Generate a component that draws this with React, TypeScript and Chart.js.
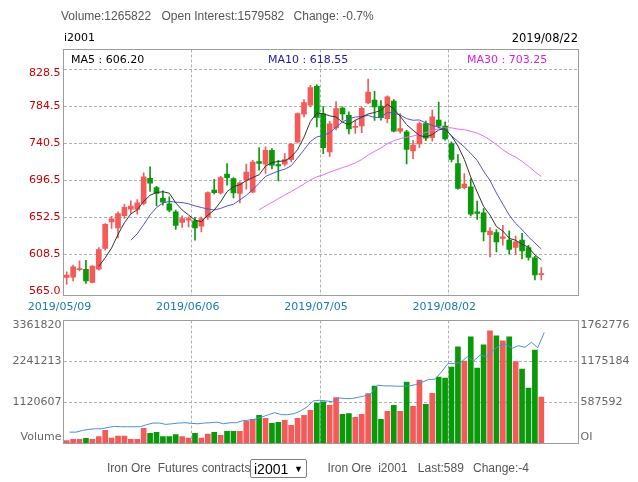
import React, { useEffect, useRef } from "react";
import { Chart, registerables } from "chart.js";

Chart.register(...registerables);

const dates = [
  "2019/05/09", "2019/05/10", "2019/05/13", "2019/05/14", "2019/05/15", "2019/05/16", "2019/05/17", "2019/05/20", "2019/05/21", "2019/05/22",
  "2019/05/23", "2019/05/24", "2019/05/27", "2019/05/28", "2019/05/29", "2019/05/30", "2019/05/31", "2019/06/03", "2019/06/04", "2019/06/05",
  "2019/06/06", "2019/06/10", "2019/06/11", "2019/06/12", "2019/06/13", "2019/06/14", "2019/06/17", "2019/06/18", "2019/06/19", "2019/06/20",
  "2019/06/21", "2019/06/24", "2019/06/25", "2019/06/26", "2019/06/27", "2019/06/28", "2019/07/01", "2019/07/02", "2019/07/03", "2019/07/04",
  "2019/07/05", "2019/07/08", "2019/07/09", "2019/07/10", "2019/07/11", "2019/07/12", "2019/07/15", "2019/07/16", "2019/07/17", "2019/07/18",
  "2019/07/19", "2019/07/22", "2019/07/23", "2019/07/24", "2019/07/25", "2019/07/26", "2019/07/29", "2019/07/30", "2019/07/31", "2019/08/01",
  "2019/08/02", "2019/08/05", "2019/08/06", "2019/08/07", "2019/08/08", "2019/08/09", "2019/08/12", "2019/08/13", "2019/08/14", "2019/08/15",
  "2019/08/16", "2019/08/19", "2019/08/20", "2019/08/21", "2019/08/22",
];

const openPrices = [
  581.1, 581.5, 590.6, 591.0, 575.2, 591.0, 615.6, 647.3, 640.2, 654.8,
  662.4, 662.0, 669.1, 699.2, 688.1, 675.4, 668.7, 659.2, 646.5, 649.3,
  648.5, 642.2, 653.2, 685.0, 681.8, 704.0, 698.8, 681.0, 696.9, 682.6,
  719.0, 715.9, 732.5, 715.5, 715.9, 721.4, 742.4, 775.3, 786.1, 808.6,
  775.7, 730.5, 759.1, 782.5, 774.0, 759.5, 761.3, 788.8, 792.0, 784.9,
  770.0, 790.8, 755.1, 754.3, 731.7, 740.1, 764.2, 747.4, 768.2, 761.1,
  740.5, 716.7, 688.1, 689.0, 659.2, 658.0, 632.2, 634.6, 627.5, 625.5,
  616.8, 625.5, 616.8, 604.5, 584.5,
];
const highPrices = [
  587.8, 595.8, 600.9, 601.7, 595.4, 616.8, 645.3, 654.0, 659.2, 668.3,
  672.3, 673.9, 705.6, 712.7, 689.7, 684.2, 677.0, 661.2, 654.4, 653.2,
  652.8, 653.2, 683.0, 698.0, 701.6, 716.7, 700.0, 694.9, 715.9, 720.6,
  735.7, 736.5, 734.5, 720.6, 728.6, 740.5, 776.9, 792.8, 809.8, 810.2,
  784.5, 767.0, 790.2, 784.0, 778.1, 768.2, 784.0, 817.0, 802.5, 791.6,
  797.3, 792.8, 776.1, 756.3, 744.4, 766.2, 767.2, 780.1, 789.8, 766.2,
  742.4, 727.4, 704.8, 698.8, 672.1, 663.2, 640.4, 638.2, 643.3, 636.6,
  630.3, 633.8, 619.5, 606.3, 593.0,
];
const lowPrices = [
  573.2, 577.1, 589.0, 574.0, 574.8, 589.8, 613.6, 639.4, 628.3, 651.3,
  657.2, 656.4, 667.5, 683.4, 666.3, 667.1, 659.2, 638.2, 640.6, 641.4,
  625.5, 635.4, 650.1, 680.4, 680.2, 690.9, 675.8, 669.9, 686.2, 681.8,
  708.7, 704.8, 710.3, 696.1, 713.9, 718.7, 741.2, 772.2, 784.1, 760.3,
  728.5, 725.0, 756.7, 768.2, 752.0, 752.4, 753.3, 788.0, 767.8, 768.2,
  765.0, 754.3, 752.7, 716.3, 722.6, 735.5, 743.8, 743.2, 759.3, 744.4,
  718.7, 686.2, 686.4, 654.4, 650.1, 624.7, 605.7, 611.6, 619.5, 608.8,
  608.2, 603.3, 601.7, 578.3, 578.3,
];
const closePrices = [
  583.9, 593.8, 591.8, 577.1, 594.6, 614.4, 644.5, 650.9, 657.2, 664.7,
  666.0, 669.9, 700.8, 693.3, 681.0, 670.7, 661.2, 643.0, 651.3, 651.3,
  640.2, 651.3, 682.2, 682.0, 700.0, 700.0, 681.8, 693.7, 706.4, 718.3,
  716.7, 732.5, 714.7, 713.9, 721.4, 739.7, 776.1, 789.2, 807.1, 771.4,
  735.5, 764.0, 782.1, 775.7, 757.9, 761.0, 782.3, 801.5, 784.0, 771.2,
  796.0, 755.3, 758.1, 733.5, 738.7, 764.2, 746.8, 772.2, 761.1, 746.0,
  721.6, 687.0, 692.1, 656.4, 657.2, 635.4, 636.2, 623.5, 629.5, 614.4,
  623.5, 612.8, 604.9, 584.3, 585.7,
];
const volumes = [
  82000, 115000, 115000, 142000, 115000, 192000, 362000, 147000, 202000, 202000,
  115000, 115000, 416000, 280000, 302000, 192000, 192000, 247000, 192000, 147000,
  275000, 147000, 257000, 302000, 220000, 330000, 330000, 330000, 605000, 660000,
  770000, 687000, 550000, 577000, 632000, 495000, 687000, 770000, 907000, 1105000,
  1136000, 1045000, 1255000, 797000, 816000, 715000, 797000, 1365000, 1567000, 660000,
  880000, 1045000, 880000, 1677000, 1017000, 1732000, 1072000, 1374000, 1814000, 1787000,
  2089000, 2639000, 2254000, 2914000, 2062000, 2694000, 3079000, 2941000, 2804000, 2914000,
  2236000, 2034000, 1512000, 2556000, 1266000,
];
const openInterest = [
  163000, 163000, 187000, 202000, 211000, 211000, 231000, 245000, 240000, 240000,
  240000, 240000, 269000, 293000, 293000, 274000, 283000, 293000, 298000, 288000,
  283000, 293000, 298000, 307000, 283000, 298000, 298000, 327000, 336000, 351000,
  380000, 413000, 442000, 413000, 413000, 428000, 466000, 524000, 610000, 620000,
  610000, 600000, 653000, 644000, 644000, 663000, 682000, 716000, 836000, 826000,
  826000, 821000, 821000, 826000, 845000, 879000, 917000, 922000, 1028000, 1148000,
  1148000, 1162000, 1244000, 1182000, 1268000, 1244000, 1330000, 1402000, 1426000, 1364000,
  1402000, 1378000, 1450000, 1374000, 1590000,
];

const priceTicks = [565.0, 608.5, 652.5, 696.5, 740.5, 784.5, 828.5];
const volumeTicks = [0, 1120607, 2241213, 3361820];
const oiTicks = [0, 587592, 1175184, 1762776];
const dateTickIndex = [0, 20, 40, 60];
const maPeriods = [5, 10, 30];
const maLabelTexts = ["MA5 : 606.20", "MA10 : 618.55", "MA30 : 703.25"];
const maColors = ["#333333", "#5252d6", "#ea6dea"];
const maLabelColors = ["#000000", "#1a1aa0", "#d61fd6"];

const RED = "#f45a5a";
const GREEN = "#0a990a";
const GRID = "#b0b0b0";
const FRAME = "#9c9c9c";
const X_MIN = -0.5;
const X_MAX = 79.8;
const OI_SHIFT = 0.45;

function movingAverage(src: number[], n: number) {
  return src.map((_, i) => {
    if (i < n) return null;
    let s = 0;
    for (let k = i - n + 1; k <= i; k++) s += src[k];
    return s / n;
  });
}

const framePlugin = {
  id: "frame",
  afterDraw(chart: any) {
    const { ctx, chartArea: a } = chart;
    ctx.save();
    ctx.strokeStyle = FRAME;
    ctx.lineWidth = 1;
    ctx.strokeRect(a.left, a.top, a.right - a.left, a.bottom - a.top);
    ctx.restore();
  },
};

const priceLabelPlugin = {
  id: "priceLabels",
  afterDraw(chart: any) {
    const s = chart.scales.y;
    const { ctx, chartArea: a } = chart;
    const topLine = s.getPixelForValue(priceTicks[priceTicks.length - 1]);
    ctx.save();
    ctx.font = '11px "DejaVu Sans"';
    ctx.fillStyle = "#c40000";
    ctx.textAlign = "right";
    ctx.textBaseline = "middle";
    for (const v of priceTicks) {
      const y = Math.min(Math.max(s.getPixelForValue(v), topLine + 4), a.bottom - 4);
      ctx.fillText(v.toFixed(1), a.left - 3, y);
    }
    ctx.restore();
  },
};

const volumeLabelPlugin = {
  id: "volumeLabels",
  afterDraw(chart: any) {
    const { ctx, chartArea: a } = chart;
    const sl = chart.scales.yVol;
    const sr = chart.scales.yOI;
    ctx.save();
    ctx.font = '11px "DejaVu Sans"';
    ctx.fillStyle = "#666666";
    ctx.textBaseline = "middle";
    const clamp = (y: number) => Math.min(Math.max(y, a.top + 5), a.bottom - 6);
    ctx.textAlign = "right";
    for (const v of volumeTicks) {
      ctx.fillText(v === 0 ? "Volume" : String(v), a.left - 2, clamp(sl.getPixelForValue(v)));
    }
    ctx.textAlign = "left";
    for (const v of oiTicks) {
      ctx.fillText(v === 0 ? "OI" : String(v), a.right + 2, clamp(sr.getPixelForValue(v)));
    }
    ctx.restore();
  },
};

export default function App() {
  const mainRef = useRef<HTMLCanvasElement | null>(null);
  const volRef = useRef<HTMLCanvasElement | null>(null);

  useEffect(() => {
    const colors = closePrices.map((c, i) => (c >= openPrices[i] ? RED : GREEN));
    const idx = closePrices.map((_, i) => i);

    const maSets = maPeriods.map((n, k) => {
      const ma = movingAverage(closePrices, n);
      return {
        type: "line" as const,
        label: "MA" + n,
        data: ma.map((v, i) => ({ x: i, y: v })),
        borderColor: maColors[k],
        borderWidth: 1,
        pointRadius: 0,
        tension: 0,
        order: 0,
      };
    });

    const main = new Chart(mainRef.current as HTMLCanvasElement, {
      type: "bar",
      data: {
        datasets: [
          ...maSets,
          {
            type: "bar",
            label: "body",
            data: idx.map((i) => ({ x: i, y: [openPrices[i], closePrices[i]] })),
            backgroundColor: colors,
            barThickness: 5,
            grouped: false,
            minBarLength: 1,
            order: 1,
          },
          {
            type: "bar",
            label: "wick",
            data: idx.map((i) => ({ x: i, y: [lowPrices[i], highPrices[i]] })),
            backgroundColor: colors,
            barThickness: 1,
            grouped: false,
            order: 2,
          },
        ] as any,
      },
      options: {
        animation: false,
        responsive: false,
        events: [],
        layout: { padding: { top: 49.5, right: 59.5, bottom: 166.5, left: 0 } },
        plugins: { legend: { display: false }, tooltip: { enabled: false } },
        scales: {
          x: {
            type: "linear",
            min: X_MIN,
            max: X_MAX,
            offset: false,
            afterBuildTicks: (s: any) => {
              s.ticks = dateTickIndex.map((i) => ({ value: i - 0.5 }));
            },
            afterFit: (s: any) => {
              s.height = 20;
            },
            ticks: {
              autoSkip: false,
              maxRotation: 0,
              minRotation: 0,
              padding: 5,
              labelOffset: -4,
              color: "#1a78b4",
              font: { family: "DejaVu Sans", size: 11 },
              callback: (v: any) => dates[Math.round(Number(v) + 0.5)] || "",
            },
            grid: { color: GRID, drawTicks: false, offset: false },
            border: { display: false, dash: [3, 2] },
          },
          y: {
            type: "linear",
            min: 559.74,
            max: 852.28,
            afterBuildTicks: (s: any) => {
              s.ticks = priceTicks.map((v) => ({ value: v }));
            },
            afterFit: (s: any) => {
              s.width = 63.5;
            },
            ticks: { display: false },
            grid: {
              drawTicks: false,
              color: (c: any) => (c.tick && c.tick.value === priceTicks[0] ? "rgba(0,0,0,0)" : GRID),
            },
            border: { display: false, dash: [3, 2] },
          },
        },
      } as any,
      plugins: [framePlugin, priceLabelPlugin],
    });

    const vol = new Chart(volRef.current as HTMLCanvasElement, {
      type: "bar",
      data: {
        datasets: [
          {
            type: "line",
            label: "OI",
            data: openInterest.map((v, i) => ({ x: i + OI_SHIFT, y: v })),
            yAxisID: "yOI",
            borderColor: "#4a8fd4",
            borderWidth: 1,
            pointRadius: 0,
            tension: 0,
            order: 0,
          },
          {
            type: "bar",
            label: "Volume",
            data: volumes.map((v, i) => ({ x: i, y: v })),
            yAxisID: "yVol",
            backgroundColor: colors,
            barThickness: 5,
            grouped: false,
            order: 1,
          },
        ] as any,
      },
      options: {
        animation: false,
        responsive: false,
        events: [],
        layout: { padding: { top: 320.5, right: 0, bottom: 38.5, left: 0 } },
        plugins: { legend: { display: false }, tooltip: { enabled: false } },
        scales: {
          x: {
            type: "linear",
            min: X_MIN,
            max: X_MAX,
            offset: false,
            afterBuildTicks: (s: any) => {
              s.ticks = dateTickIndex.map((i) => ({ value: i - 0.5 }));
            },
            afterFit: (s: any) => {
              s.height = 0;
            },
            ticks: { display: false },
            grid: { color: GRID, drawTicks: false, offset: false },
            border: { display: false, dash: [3, 2] },
          },
          yVol: {
            type: "linear",
            position: "left",
            min: 0,
            max: volumeTicks[volumeTicks.length - 1],
            afterBuildTicks: (s: any) => {
              s.ticks = volumeTicks.map((v) => ({ value: v }));
            },
            afterFit: (s: any) => {
              s.width = 63.5;
            },
            ticks: { display: false },
            grid: { color: GRID, drawTicks: false },
            border: { display: false, dash: [3, 2] },
          },
          yOI: {
            type: "linear",
            position: "right",
            min: 0,
            max: oiTicks[oiTicks.length - 1],
            afterBuildTicks: (s: any) => {
              s.ticks = oiTicks.map((v) => ({ value: v }));
            },
            afterFit: (s: any) => {
              s.width = 59.5;
            },
            ticks: { display: false },
            grid: { display: false, drawTicks: false },
            border: { display: false },
          },
        },
      } as any,
      plugins: [framePlugin, volumeLabelPlugin],
    });

    return () => {
      main.destroy();
      vol.destroy();
    };
  }, []);

  const sans = '"Liberation Sans", Arial, sans-serif';
  const dv = '"DejaVu Sans", sans-serif';
  const abs = (left: number, top: number, extra: any = {}) => ({
    position: "absolute" as const,
    left,
    top,
    whiteSpace: "pre" as const,
    lineHeight: "14px",
    ...extra,
  });

  return (
    <div style={{ position: "absolute", left: 0, top: 0, width: 638, height: 482, background: "#fff", overflow: "hidden" }}>
      <canvas ref={mainRef} width={638} height={482} style={{ position: "absolute", left: 0, top: 0 }} />
      <canvas ref={volRef} width={638} height={482} style={{ position: "absolute", left: 0, top: 0 }} />

      <div style={abs(61, 9, { fontFamily: sans, fontSize: 12, color: "#555" })}>Volume:1265822</div>
      <div style={abs(161.5, 9, { fontFamily: sans, fontSize: 12, color: "#555" })}>Open Interest:1579582</div>
      <div style={abs(293.6, 9, { fontFamily: sans, fontSize: 12, color: "#555" })}>Change: -0.7%</div>

      <div style={abs(64, 31, { fontFamily: dv, fontSize: 11, color: "#000" })}>i2001</div>
      <div style={{ position: "absolute", right: 60, top: 31, lineHeight: "14px", fontFamily: dv, fontSize: 11.5, color: "#000" }}>2019/08/22</div>

      <div style={abs(71, 53, { fontFamily: dv, fontSize: 11, color: maLabelColors[0] })}>{maLabelTexts[0]}</div>
      <div style={abs(268, 53, { fontFamily: dv, fontSize: 11, color: maLabelColors[1] })}>{maLabelTexts[1]}</div>
      <div style={abs(467, 53, { fontFamily: dv, fontSize: 11, color: maLabelColors[2] })}>{maLabelTexts[2]}</div>

      <div style={abs(107, 461, { fontFamily: sans, fontSize: 12, color: "#555" })}>Iron Ore  Futures contracts</div>
      <div
        style={{
          position: "absolute",
          left: 250,
          top: 459,
          width: 57,
          height: 19,
          boxSizing: "border-box",
          border: "1px solid #7f7f7f",
          borderRadius: 2,
          background: "#fff",
          fontFamily: sans,
        }}
      >
        <span style={{ position: "absolute", left: 3, top: 1, fontSize: 14, lineHeight: "16px", color: "#000" }}>i2001</span>
        <span style={{ position: "absolute", left: 43, top: 2, fontSize: 9, lineHeight: "14px", color: "#000" }}>▼</span>
      </div>
      <div style={abs(327.5, 461, { fontFamily: sans, fontSize: 12, color: "#555" })}>Iron Ore  i2001</div>
      <div style={abs(417.8, 461, { fontFamily: sans, fontSize: 12, color: "#555" })}>Last:589</div>
      <div style={abs(473, 461, { fontFamily: sans, fontSize: 12, color: "#555" })}>Change:-4</div>
    </div>
  );
}
